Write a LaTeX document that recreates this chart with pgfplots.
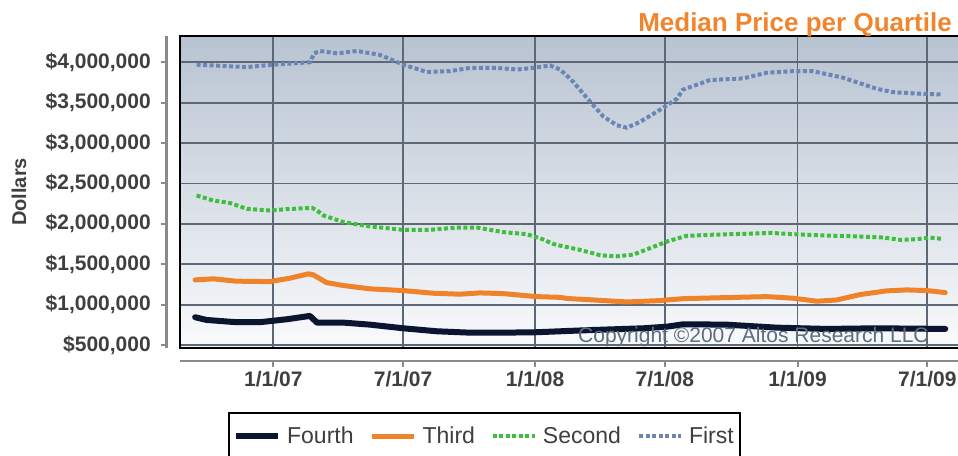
\documentclass[border=0pt]{standalone}
\usepackage{fontspec}
\setmainfont{Liberation Sans}
\usepackage{pgfplots}
\pgfplotsset{compat=1.18}
\definecolor{bgtop}{HTML}{B8C3D1}
\definecolor{bgbot}{HTML}{F9FAFC}
\definecolor{gridc}{HTML}{5C6875}
\definecolor{axgray}{HTML}{8A8A8A}
\definecolor{txtgray}{HTML}{3F3F3F}
\definecolor{fourth}{HTML}{0B1530}
\definecolor{third}{HTML}{F0832A}
\definecolor{second}{HTML}{3DBE3D}
\definecolor{first}{HTML}{6A85B6}
\definecolor{copyc}{HTML}{5E6C80}
\definecolor{titlec}{HTML}{F0852E}
\begin{document}
\begin{tikzpicture}
\useasboundingbox (0,0) rectangle (958pt,455pt);
\begin{axis}[
  at={(180.3pt,107pt)}, anchor=south west,
  scale only axis, width=777.7pt, height=312pt,
  xmin=-129.7, xmax=954.8, ymin=463000, ymax=4325000,
  scaled y ticks=false, scaled x ticks=false,
  clip=false,
  axis lines*=left, separate axis lines,
  axis background/.style={top color=bgtop, bottom color=bgbot},
  x axis line style={axgray, line width=2.5pt, yshift=-13pt, -},
  y axis line style={axgray, line width=2.5pt, xshift=-13.6pt, -},
  tick align=outside, major tick length=6pt,
  every x tick/.append style={axgray, line width=2pt, yshift=-13pt},
  every y tick/.append style={axgray, line width=2pt, xshift=-13.6pt},
  grid=major, major grid style={gridc, line width=1.8pt},
  xtick={0,181,365,546,731,912},
  xticklabels={1/1/07,7/1/07,1/1/08,7/1/08,1/1/09,7/1/09},
  ytick={500000,1000000,1500000,2000000,2500000,3000000,3500000,4000000},
  yticklabels={{\$500,000},{\$1,000,000},{\$1,500,000},{\$2,000,000},{\$2,500,000},{\$3,000,000},{\$3,500,000},{\$4,000,000}},
  ticklabel style={font=\fontsize{21}{25}\selectfont\bfseries, text=txtgray},
  xticklabel style={yshift=-14pt},
  yticklabel style={xshift=-20pt},
  legend columns=4,
  legend style={at={(0.0615,-0.2051)}, anchor=north west, draw=black, line width=2pt, fill=white,
    font=\fontsize{23}{27}\selectfont, text=txtgray, inner xsep=4pt, inner ysep=12pt,
    /tikz/every odd column/.append style={column sep=4pt},
    /tikz/every even column/.append style={column sep=14pt}},
  legend image code/.code={\draw[#1, line cap=butt] (0pt,0pt) -- (42pt,0pt);},
]
\addplot[fourth, line width=6pt, line join=round, line cap=round] coordinates {
(-109,844000) (-93,810000) (-51,782000) (-19,782000) (19,819000) (51,860000) (61,777000)
(98,777000) (135,752000) (181,707000) (228,670000) (274,653000) (321,653000) (367,658000)
(411,674000) (446,686000) (516,707000) (549,727000) (572,757000) (632,752000) (702,715000)
(772,699000) (842,707000) (937,699000)};
\addlegendentry{Fourth}
\addplot[third, line width=5pt, line join=round, line cap=round] coordinates {
(-109,1306000) (-84,1319000) (-51,1290000) (-5,1285000) (23,1327000) (49,1381000) (56,1368000)
(74,1273000) (98,1236000) (135,1195000) (181,1174000) (223,1141000) (260,1129000) (288,1145000)
(321,1136000) (367,1099000) (400,1090000) (411,1075000) (446,1058000) (493,1033000) (539,1050000)
(572,1074000) (632,1087000) (688,1099000) (725,1079000) (758,1042000) (786,1058000) (818,1124000)
(855,1170000) (883,1182000) (911,1174000) (937,1149000)};
\addlegendentry{Third}
\addplot[second, line width=4pt, dash pattern=on 4pt off 2.5pt] coordinates {
(-107,2351000) (-84,2289000) (-60,2257000) (-37,2186000) (-5,2165000) (19,2182000) (54,2198000)
(61,2165000) (70,2103000) (98,2021000) (135,1967000) (181,1926000) (219,1926000) (256,1954000)
(284,1954000) (321,1897000) (353,1872000) (372,1822000) (390,1752000) (400,1730000) (428,1677000)
(456,1611000) (479,1598000) (502,1619000) (525,1698000) (549,1781000) (576,1851000) (609,1864000)
(655,1876000) (693,1888000) (725,1872000) (772,1855000) (818,1843000) (851,1830000) (874,1802000)
(897,1810000) (916,1830000) (932,1814000)};
\addlegendentry{Second}
\addplot[first, line width=4pt, dash pattern=on 4pt off 2.5pt] coordinates {
(-107,3970000) (-37,3940000) (0,3970000) (51,4000000) (57,4110000) (65,4140000) (89,4110000)
(117,4140000) (149,4090000) (181,3970000) (214,3880000) (246,3890000) (274,3930000) (312,3930000)
(340,3910000) (362,3930000) (386,3960000) (400,3910000) (411,3820000) (418,3760000) (442,3510000)
(460,3330000) (479,3220000) (493,3190000) (511,3260000) (539,3410000) (563,3550000) (571,3660000)
(609,3780000) (655,3800000) (688,3870000) (725,3890000) (752,3890000) (794,3810000) (842,3670000)
(864,3630000) (902,3610000) (933,3600000)};
\addlegendentry{First}
\draw[black, line width=2pt] (rel axis cs:1,1) -- (rel axis cs:0,1) -- (rel axis cs:0,0) -- (rel axis cs:1,0);
\end{axis}
\node[anchor=base east, inner sep=0pt, text=titlec, font=\fontsize{26}{30}\selectfont\bfseries] at (952pt,423.5pt) {Median Price per Quartile};
\node[rotate=90, inner sep=0pt, text=txtgray, font=\fontsize{20}{24}\selectfont\bfseries] at (19pt,263pt) {Dollars};
\node[anchor=base west, inner sep=0pt, text=copyc, font=\fontsize{21}{25}\selectfont] at (578pt,112pt) {Copyright ©2007 Altos Research LLC};
\end{tikzpicture}
\end{document}
